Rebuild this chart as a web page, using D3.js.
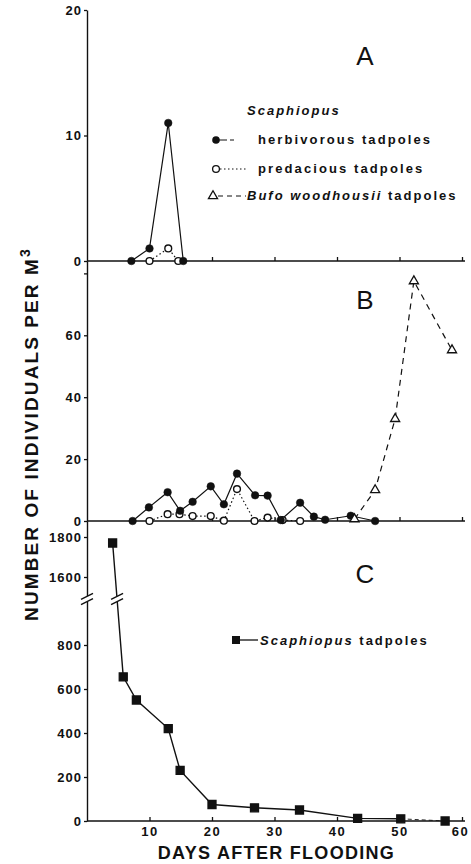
<!DOCTYPE html>
<html>
<head>
<meta charset="utf-8">
<script src="https://cdn.jsdelivr.net/npm/d3@7/dist/d3.min.js"></script>
<style>
  body { margin: 0; background: #fff; }
  text { font-family: "Liberation Sans", Arial, sans-serif; fill: #111; }
</style>
</head>
<body>
<svg id="chart"></svg>
<script>
// panel A : Scaphiopus herbivorous / predacious
const herbA_days = [7.1, 10, 13, 15.4];
const herbA_vals = [0, 1, 11, 0];
const predA_days = [10, 13, 14.6];
const predA_vals = [0, 1, 0];

// panel B
const herbB_days = [7.3, 9.9, 12.9, 14.9, 16.9, 19.8, 21.9, 24.0, 26.9, 28.9, 31.0, 34.1, 36.3, 38.1, 42.2, 46.1];
const herbB_vals = [0, 4.4, 9.3, 3.3, 6.2, 11.2, 5.4, 15.3, 8.3, 8.2, 0.3, 5.9, 1.4, 0.4, 1.7, 0];
const predB_days = [10, 12.9, 14.8, 16.9, 19.8, 21.9, 24.0, 26.8, 28.9, 31.3, 34.1];
const predB_vals = [0, 2.2, 2.2, 1.6, 1.6, 0.1, 10.3, 0, 1.1, 0.3, 0];
const bufoB_days = [42.8, 46.1, 49.3, 52.3, 58.4];
const bufoB_vals = [0.6, 10, 33, 77.5, 55.2];

// panel C : all Scaphiopus tadpoles
const scaphC_days = [4.1, 5.8, 7.9, 13, 14.9, 20, 26.8, 34, 43.3, 50.2, 57.3];
const scaphC_vals = [1770, 655, 550, 420, 230, 75, 60, 50, 12, 10, 0];

// ticks
const xTicks = [10, 20, 30, 40, 50, 60];
const yTicksA = [0, 10, 20];
const yTicksB = [0, 20, 40, 60, 80];
const yTicksCLow = [0, 200, 400, 600, 800];
const yTicksCHigh = [1600, 1800];

const width = 471;
const height = 864;

const svg = d3.select("#chart")
  .attr("width", width)
  .attr("height", height);

// scales
const xScale = d3.scaleLinear().domain([0, 60]).range([87, 462]);
const yA = d3.scaleLinear().domain([0, 20]).range([261, 10]);
const yB = d3.scaleLinear().domain([0, 84]).range([521, 261]);
const yCLow = d3.scaleLinear().domain([0, 1000]).range([821, 601]);
const yCHigh = d3.scaleLinear().domain([1500, 1880]).range([597, 521]);
const yC = v => v > 1000 ? yCHigh(v) : yCLow(v);

const zip = (days, vals) => days.map((d, i) => ({ day: d, val: vals[i] }));

// y axes
const drawYAxis = (scale, ticks, hideLabel) => {
  const g = svg.append("g")
    .attr("transform", `translate(${xScale.range()[0]},0)`)
    .call(d3.axisLeft(scale)
      .tickValues(ticks)
      .tickSizeInner(3)
      .tickSizeOuter(0)
      .tickPadding(2)
      .tickFormat(d => hideLabel && hideLabel(d) ? "" : d));
  g.select(".domain").attr("stroke", "#111").attr("stroke-width", 1.4);
  g.selectAll(".tick line").attr("stroke", "#111").attr("stroke-width", 1.3);
  g.selectAll(".tick text")
    .attr("font-size", "13px")
    .attr("font-weight", "bold")
    .attr("letter-spacing", "1px")
    .attr("fill", "#111");
  return g;
};

drawYAxis(yA, yTicksA);
drawYAxis(yB, yTicksB, d => d === 80);
drawYAxis(yCLow, yTicksCLow);
drawYAxis(yCHigh, yTicksCHigh);

// x axes (ticks point up into the plot)
const drawXAxis = (y0, showLabels) => {
  const g = svg.append("g")
    .attr("transform", `translate(0,${y0})`)
    .call(d3.axisBottom(xScale)
      .tickValues(xTicks)
      .tickSizeInner(-4)
      .tickSizeOuter(0)
      .tickPadding(6)
      .tickFormat(d => showLabels ? d : ""));
  g.select(".domain").attr("stroke", "#111").attr("stroke-width", 1.4)
    .attr("d", `M${xScale.range()[0]},0H${xScale.range()[1] + 3}`);
  g.selectAll(".tick line").attr("stroke", "#111").attr("stroke-width", 1.3);
  g.selectAll(".tick text")
    .attr("font-size", "13px")
    .attr("font-weight", "bold")
    .attr("letter-spacing", "1.5px")
    .attr("fill", "#111");
  // keep the last label inside the page
  g.selectAll(".tick text").filter(d => d === 60).attr("dx", "-2px");
};

drawXAxis(yA(0), false);
drawXAxis(yB(0), false);
drawXAxis(yCLow(0), true);

// line + marker helpers
const drawLine = (data, yScale, dash, sw) => {
  svg.append("path")
    .datum(data)
    .attr("fill", "none")
    .attr("stroke", "#111")
    .attr("stroke-width", sw || 1.2)
    .attr("stroke-dasharray", dash || null)
    .attr("d", d3.line().x(d => xScale(d.day)).y(d => yScale(d.val)));
};

const drawDots = (data, yScale, filled) => {
  svg.append("g")
    .selectAll("circle")
    .data(data)
    .join("circle")
    .attr("cx", d => xScale(d.day))
    .attr("cy", d => yScale(d.val))
    .attr("r", filled ? 3.8 : 3.4)
    .attr("fill", filled ? "#111" : "#fff")
    .attr("stroke", "#111")
    .attr("stroke-width", filled ? 0.5 : 1.4);
};

const drawSymbols = (data, yScale, type, size, filled) => {
  svg.append("g")
    .selectAll("path")
    .data(data)
    .join("path")
    .attr("transform", d => `translate(${xScale(d.day)},${yScale(d.val)})`)
    .attr("d", d3.symbol().type(type).size(size))
    .attr("fill", filled ? "#111" : "#fff")
    .attr("stroke", "#111")
    .attr("stroke-width", 1.3);
};

// panel A
const herbA = zip(herbA_days, herbA_vals);
const predA = zip(predA_days, predA_vals);
drawLine(predA, yA, "1.5,2.5");
drawLine(herbA, yA);
drawDots(predA, yA, false);
drawDots(herbA, yA, true);

// panel B
const herbB = zip(herbB_days, herbB_vals);
const predB = zip(predB_days, predB_vals);
const bufoB = zip(bufoB_days, bufoB_vals);
drawLine(predB, yB, "1.5,2.5");
drawLine(bufoB, yB, "6,5");
drawLine(herbB, yB);
drawDots(predB, yB, false);
drawDots(herbB, yB, true);
drawSymbols(bufoB, yB, d3.symbolTriangle, 36, false);

// panel C
const scaphC = zip(scaphC_days, scaphC_vals);
svg.append("path")
  .datum(scaphC.slice(0, scaphC.length - 1))
  .attr("fill", "none")
  .attr("stroke", "#111")
  .attr("stroke-width", 1.4)
  .attr("d", d3.line().x(d => xScale(d.day)).y(d => yC(d.val)));
svg.append("path")
  .datum(scaphC.slice(scaphC.length - 2))
  .attr("fill", "none")
  .attr("stroke", "#111")
  .attr("stroke-width", 0.9)
  .attr("stroke-dasharray", "4,3")
  .attr("d", d3.line().x(d => xScale(d.day)).y(d => yC(d.val)));

// axis break marks  //
const breakY = (yCLow.range()[1] + yCHigh.range()[0]) / 2;
const drawBreak = (cx, cy) => {
  svg.append("rect")
    .attr("x", cx - 4).attr("y", cy - 3)
    .attr("width", 8).attr("height", 6)
    .attr("fill", "#fff");
  [-2.6, 2.6].forEach(off => {
    svg.append("line")
      .attr("x1", cx - 6).attr("y1", cy + off + 3)
      .attr("x2", cx + 6).attr("y2", cy + off - 3)
      .attr("stroke", "#111")
      .attr("stroke-width", 1.3);
  });
};
drawBreak(xScale.range()[0], breakY);
// break on the data line, where the first segment crosses breakY
const p0 = { x: xScale(scaphC[0].day), y: yC(scaphC[0].val) };
const p1 = { x: xScale(scaphC[1].day), y: yC(scaphC[1].val) };
const t = (breakY - p0.y) / (p1.y - p0.y);
drawBreak(p0.x + t * (p1.x - p0.x), breakY);

drawSymbols(scaphC, yC, d3.symbolSquare, 64, true);

// panel letters
const panelLetters = [
  { label: "A", y: yA(15.6) },
  { label: "B", y: yB(68.5) },
  { label: "C", y: yCHigh(1570) }
];
svg.selectAll("text.panel")
  .data(panelLetters)
  .join("text")
  .attr("class", "panel")
  .attr("x", 365)
  .attr("y", d => d.y)
  .attr("text-anchor", "middle")
  .attr("font-size", "26px")
  .attr("font-weight", "normal")
  .text(d => d.label);

// legend, panel A
const legend = svg.append("g").attr("font-size", "13px").attr("font-weight", "bold");
legend.append("text")
  .attr("x", 247).attr("y", 115)
  .attr("font-style", "italic")
  .attr("letter-spacing", "2px")
  .text("Scaphiopus");

const legRows = [
  { y: 144, text: "herbivorous tadpoles" },
  { y: 173, text: "predacious tadpoles" }
];
legend.selectAll("text.row")
  .data(legRows)
  .join("text")
  .attr("class", "row")
  .attr("x", 258)
  .attr("y", d => d.y)
  .attr("letter-spacing", "2.1px")
  .text(d => d.text);

const bufoText = legend.append("text")
  .attr("x", 247).attr("y", 200)
  .attr("letter-spacing", "2px");
bufoText.append("tspan").attr("font-style", "italic").text("Bufo woodhousii");
bufoText.append("tspan").text(" tadpoles");

// legend symbols
svg.append("line").attr("x1", 218).attr("x2", 241).attr("y1", 140).attr("y2", 140)
  .attr("stroke", "#111").attr("stroke-width", 1).attr("stroke-dasharray", "9,3,4");
svg.append("circle").attr("cx", 216).attr("cy", 140).attr("r", 3.8).attr("fill", "#111");
svg.append("line").attr("x1", 220).attr("x2", 246).attr("y1", 169).attr("y2", 169)
  .attr("stroke", "#111").attr("stroke-width", 1.1).attr("stroke-dasharray", "1.5,2.5");
svg.append("circle").attr("cx", 216).attr("cy", 169).attr("r", 3.4)
  .attr("fill", "#fff").attr("stroke", "#111").attr("stroke-width", 1.3);
svg.append("line").attr("x1", 218).attr("x2", 246).attr("y1", 196).attr("y2", 196)
  .attr("stroke", "#111").attr("stroke-width", 1.1).attr("stroke-dasharray", "5,4");
svg.append("path")
  .attr("transform", "translate(213,196)")
  .attr("d", d3.symbol().type(d3.symbolTriangle).size(36))
  .attr("fill", "#fff").attr("stroke", "#111").attr("stroke-width", 1.3);

// legend, panel C
svg.append("line").attr("x1", 236).attr("x2", 258).attr("y1", 640).attr("y2", 640)
  .attr("stroke", "#111").attr("stroke-width", 1.3);
svg.append("path")
  .attr("transform", "translate(236,640)")
  .attr("d", d3.symbol().type(d3.symbolSquare).size(64))
  .attr("fill", "#111");
const cLeg = svg.append("text")
  .attr("x", 260).attr("y", 645)
  .attr("font-size", "13px").attr("font-weight", "bold")
  .attr("letter-spacing", "2px");
cLeg.append("tspan").attr("font-style", "italic").text("Scaphiopus");
cLeg.append("tspan").text(" tadpoles");

// axis titles
svg.append("text")
  .attr("x", 276.5).attr("y", 859)
  .attr("text-anchor", "middle")
  .attr("font-size", "18px").attr("font-weight", "bold")
  .attr("letter-spacing", "1.3px")
  .text("DAYS AFTER FLOODING");

const yTitle = svg.append("text")
  .attr("transform", "translate(38,434) rotate(-90)")
  .attr("text-anchor", "middle")
  .attr("font-size", "19px").attr("font-weight", "bold")
  .attr("letter-spacing", "2.1px");
yTitle.append("tspan").text("NUMBER OF INDIVIDUALS PER M");
yTitle.append("tspan").attr("dy", "-0.55em").attr("font-size", "14px").text("3");
</script>
</body>
</html>
